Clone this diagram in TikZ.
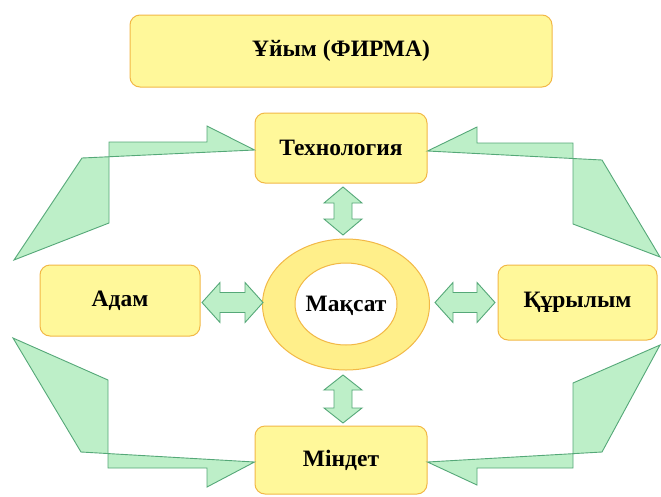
\documentclass[tikz,border=0pt]{standalone}
\usepackage{fontspec}
\setmainfont{Liberation Serif}
\begin{document}
\begin{tikzpicture}[x=1pt,y=-1pt,
  box/.style={draw=boxline, fill=boxfill, rounded corners=10pt, line width=1pt, font=\fontsize{23.5}{27}\selectfont\bfseries, inner sep=0pt},
  greenshape/.style={draw=greenline, fill=greenfill, line width=0.9pt, line join=miter}]
\definecolor{boxfill}{HTML}{FFF89A}
\definecolor{boxline}{HTML}{F2B847}
\definecolor{ringfill}{HTML}{FFEF8A}
\definecolor{greenfill}{HTML}{BDEFC8}
\definecolor{greenline}{HTML}{55A878}
\useasboundingbox (0,0) rectangle (661,496);
\fill[white] (0,0) rectangle (661,496);

% boxes
\node[box, minimum width=422pt, minimum height=72pt] (firma) at (341,51) {Ұйым (ФИРМА)};
\node[box, minimum width=172pt, minimum height=70pt] (tech) at (341,148) {Технология};
\node[box, minimum width=160pt, minimum height=71pt] (adam) at (120,300.5) {Адам};
\node[box, minimum width=159pt, minimum height=75pt] (kur) at (577.5,302.5) {Құрылым};
\node[box, minimum width=172pt, minimum height=68pt] (mindet) at (341,460) {Міндет};

% ring
\fill[ringfill, even odd rule, draw=boxline, line width=1pt]
  (346,304.5) ellipse [x radius=83.5, y radius=65.5]
  (346,304) ellipse [x radius=51, y radius=41];
\node[font=\fontsize{23.5}{27}\selectfont\bfseries] (maqsat) at (346,306) {Мақсат};

% double arrows
\draw[greenshape] (202,302.5) -- (220,282.5) -- (220,292.5) -- (245,292.5) -- (245,282.5) -- (263,302.5)
  -- (245,322.5) -- (245,312.5) -- (220,312.5) -- (220,322.5) -- cycle;
\draw[greenshape] (435,302.5) -- (453,282.5) -- (453,292.5) -- (477,292.5) -- (477,282.5) -- (495,302.5)
  -- (477,322.5) -- (477,312.5) -- (453,312.5) -- (453,322.5) -- cycle;
\draw[greenshape] (343,187) -- (362,203) -- (352,203) -- (352,219) -- (362,219) -- (343,235)
  -- (324,219) -- (334,219) -- (334,203) -- (324,203) -- cycle;
\draw[greenshape] (343,375) -- (362,390) -- (352,390) -- (352,408) -- (362,408) -- (343,423)
  -- (324,408) -- (334,408) -- (334,390) -- (324,390) -- cycle;

% bent arrows
\draw[greenshape] (tech.west |- 0,150) -- (207,126) -- (207,142) -- (109,142) -- (109,223) -- (14,260) -- (82,158) -- cycle;
\draw[greenshape] (tech.east |- 0,151) -- (477,127) -- (477,143) -- (573,143) -- (573,224) -- (660,257) -- (602,160) -- cycle;
\draw[greenshape] (13,338) -- (108,380) -- (108,468) -- (207,468) -- (207,487) -- (mindet.west |- 0,462) -- (81,452) -- cycle;
\draw[greenshape] (660,345) -- (573,383) -- (573,468) -- (477,468) -- (477,485) -- (mindet.east |- 0,462) -- (602,452) -- cycle;
\end{tikzpicture}
\end{document}
